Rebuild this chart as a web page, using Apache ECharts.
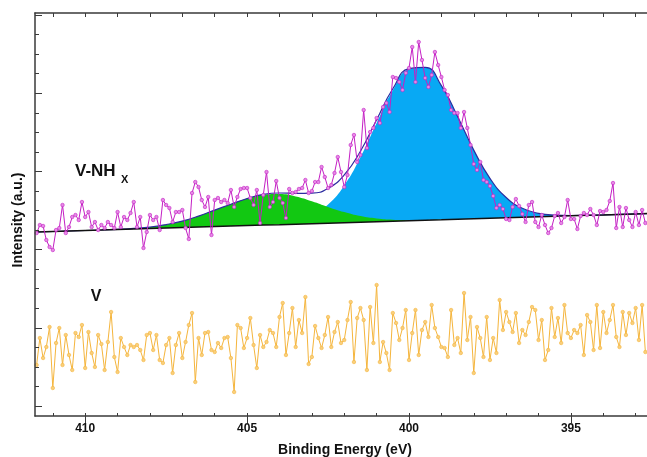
<!DOCTYPE html>
<html>
<head>
<meta charset="utf-8">
<title>N 1s</title>
<script src="https://cdn.jsdelivr.net/npm/echarts@6/dist/echarts.min.js"></script>
<style>
    html, body { margin: 0; padding: 0; background: #fff; }
    #main { width: 647px; height: 457px; }
</style>
</head>
<body>
<div id="main"></div>
<script>
// raw scans: start energy and step (eV), values in a.u.
const scanStart = 411.5;
const scanStep = 0.1;

// V-NHx raw spectrum
const vnhRaw = [
    183, 191, 190, 176, 169, 166, 186, 188, 211, 183,
    189, 199, 201, 196, 214, 199, 204, 189, 194, 186,
    191, 188, 194, 191, 188, 204, 189, 199, 196, 203,
    214, 189, 199, 168, 184, 201, 196, 199, 186, 216,
    211, 208, 194, 204, 204, 206, 188, 177, 223, 234,
    229, 216, 209, 219, 181, 216, 218, 214, 216, 213,
    226, 209, 219, 227,
    228, 228, 218, 211, 226, 193, 221, 244, 209, 214,
    235, 218, 213, 198, 227, 223, 224, 227, 228, 236,
    223, 225, 234, 234, 249, 239, 228, 231, 243, 259,
    244, 229, 241, 271, 281, 254, 261, 306, 268, 284,
    288, 298, 293, 309, 313, 304, 339, 338, 334, 326,
    343, 348, 369, 334, 374, 356, 338, 329, 341, 364,
    351,
    339, 326, 321, 306, 303, 303, 288, 304, 288, 271,
    252, 246, 254, 236, 234, 230, 220, 208, 211, 207,
    197, 196, 209, 217, 210, 202, 194, 211, 214, 194,
    189, 201, 191,
    183, 188, 200, 203, 193, 199, 216, 197, 197, 187,
    200, 203, 201, 207, 201, 191, 205, 204, 206, 215,
    233, 188, 209, 189, 208, 196, 189, 204, 191, 206,
    193
];

// V raw spectrum
const vRaw = [
    51, 78, 58, 69, 89, 28, 73, 88, 51, 81,
    61, 46, 83, 79, 91, 48, 84, 63, 49, 81,
    72, 46, 74, 104, 59, 44, 78, 69, 61, 71,
    69, 71, 66, 56, 81, 83, 66, 81, 56, 53,
    71, 78, 43, 71, 83, 58, 74, 91, 103, 34,
    78, 61, 83, 84, 66, 64, 73, 68, 78, 79,
    58, 24, 91, 88,
    68, 78, 98, 71, 48, 81, 69, 74, 86, 83,
    69, 99, 113, 61, 83, 108, 69, 96, 83, 119,
    52, 59, 90, 78, 68, 81, 99, 69, 84, 94,
    73, 76, 96, 114, 54, 98, 108, 96, 46, 109,
    73, 131, 54, 74, 63, 46, 103, 93, 76, 88,
    106, 56, 83, 106, 61, 86, 94, 79, 111, 88,
    79,
    69, 68, 59, 106, 71, 78, 63, 123, 76, 99,
    43, 89, 78, 59, 99, 56, 78, 63, 116, 86,
    104, 94, 84, 103, 73, 86, 81, 94, 109, 106,
    76, 96, 56, 66, 108, 79, 98, 73, 111, 83,
    78, 86, 83, 91, 61, 101, 94, 66, 111, 68,
    104, 83, 96, 111, 79, 69, 104, 81, 103, 93,
    108, 76, 111, 64
];

// peak fit, sampled every 0.5 eV
const fitEnergy = [
    411.5, 411, 410.5, 410, 409.5, 409, 408.5, 408, 407.5, 407,
    406.5, 406, 405.5, 405, 404.5, 404, 403.5, 403, 402.5, 402,
    401.5, 401, 400.5, 400, 399.5, 399, 398.5, 398, 397.5, 397,
    396.5, 396, 395.5, 395, 394.5, 394, 393.5, 393, 392.5
];
const fitBackground = [
    184, 184.5, 185, 185.5, 186, 186.5, 187, 187.4, 187.9, 188.4,
    188.9, 189.4, 189.9, 190.4, 190.9, 191.3, 191.8, 192.3, 192.8, 193.3,
    193.8, 194.3, 194.8, 195.3, 195.8, 196.2, 196.7, 197.2, 197.7, 198.2,
    198.7, 199.2, 199.7, 200.2, 200.7, 201.1, 201.6, 202.1, 202.6
];
// component near 404.2 eV (green)
const peakLow = [
    0, 0, 0, 0, 0, 0.2, 0.6, 1.5, 3.5, 6.5,
    11, 16.5, 21.8, 27, 30.4, 30.7, 27.8, 22.5, 16.3, 10.6,
    6.1, 3.2, 1.5, 0.6, 0.2, 0, 0, 0, 0, 0,
    0, 0, 0, 0, 0, 0, 0, 0, 0
];
// component near 399.7 eV (blue)
const peakMain = [
    0, 0, 0, 0, 0, 0, 0, 0, 0, 0,
    0, 0, 0, 0, 0.3, 1.0, 3.1, 8.1, 18.6, 37.2,
    64.9, 98.7, 130.9, 151.4, 152.7, 134.2, 102.9, 68.7, 40, 20.3,
    9, 3.5, 1.2, 0.3, 0, 0, 0, 0, 0
];

const xLabels = [410, 405, 400, 395];
const xTicks = [393, 394, 395, 396, 397, 398, 399, 400, 401, 402, 403, 404, 405, 406, 407, 408, 409, 410, 411];

const energy = vnhRaw.map((v, i) => +(scanStart - i * scanStep).toFixed(1));
const pair = (xs, ys) => xs.map((x, i) => [x, ys[i]]);
const mainTop = fitBackground.map((b, i) => +(b + peakMain[i]).toFixed(1));
const lowTop = fitBackground.map((b, i) => +(b + peakLow[i]).toFixed(1));
const envelope = fitBackground.map((b, i) => +(b + peakLow[i] + peakMain[i]).toFixed(1));

// y ticks (no labels on this axis)
let yTicks = [];
for (let k = 0; k <= 20; k++) {
    yTicks.push(10 + k * 19.55);
}
let yMajor = yTicks.filter((t, k) => k % 4 == 0);

const axisColor = '#3a3a3a';
const font = 'Liberation Sans, Arial, sans-serif';
const xMin = 392.65;
const xMax = 411.55;

function xAxisBase(pos) {
    return {
        type: 'value',
        position: pos,
        inverse: true,
        min: xMin,
        max: xMax,
        z: 10,
        splitLine: { show: false },
        axisLine: { show: false },
        axisTick: { show: false },
        axisLabel: { show: false }
    };
}

let xBottom = xAxisBase('bottom');
xBottom.axisLine = { show: true, onZero: false, lineStyle: { color: axisColor, width: 1.5 } };
xBottom.axisTick = { show: true, inside: true, length: 3, customValues: xTicks, lineStyle: { color: axisColor, width: 1 } };
xBottom.axisLabel = {
    show: true,
    customValues: xLabels,
    margin: 7,
    color: '#111',
    fontSize: 12,
    fontWeight: 'bold',
    fontFamily: font
};

let xTop = xAxisBase('top');
xTop.axisLine = { show: true, onZero: false, lineStyle: { color: axisColor, width: 1.5 } };
xTop.axisTick = { show: true, inside: true, length: 4, customValues: xTicks, lineStyle: { color: axisColor, width: 1 } };

let xTopMajor = xAxisBase('top');
xTopMajor.axisTick = { show: true, inside: true, length: 7, customValues: xLabels, lineStyle: { color: axisColor, width: 1 } };

// area fills go down to the axis, the white one hides everything under the background line
function fill(values, from, to, color, z) {
    return {
        type: 'line',
        data: pair(fitEnergy, values).slice(from, to),
        smooth: 0.5,
        symbol: 'none',
        lineStyle: { width: 0 },
        areaStyle: { color: color, opacity: 1, origin: 'start' },
        silent: true,
        z: z
    };
}

let option = {
    animation: false,
    backgroundColor: '#fff',
    textStyle: { fontFamily: font },
    grid: { left: 35, right: 0, top: 13, bottom: 41 },
    xAxis: [xBottom, xTop, xTopMajor],
    yAxis: [
        {
            type: 'value',
            position: 'left',
            min: 0,
            max: 403,
            z: 10,
            splitLine: { show: false },
            axisLabel: { show: false },
            axisLine: { show: true, onZero: false, lineStyle: { color: axisColor, width: 1.5 } },
            axisTick: { show: true, inside: true, length: 4, customValues: yTicks, lineStyle: { color: axisColor, width: 1 } }
        },
        {
            type: 'value',
            position: 'left',
            min: 0,
            max: 403,
            z: 10,
            splitLine: { show: false },
            axisLabel: { show: false },
            axisLine: { show: false },
            axisTick: { show: true, inside: true, length: 7, customValues: yMajor, lineStyle: { color: axisColor, width: 1 } }
        }
    ],
    series: [
        fill(mainTop, 12, 36, '#08a9f4', 1),
        fill(lowTop, 3, 27, '#12c812', 2),
        fill(fitBackground, 0, fitEnergy.length, '#ffffff', 3),
        {
            // fit envelope
            type: 'line',
            data: pair(fitEnergy, envelope),
            smooth: 0.5,
            symbol: 'none',
            lineStyle: { color: '#2c2ca0', width: 1.2 },
            z: 4
        },
        {
            // background
            type: 'line',
            data: pair(fitEnergy, fitBackground),
            symbol: 'none',
            lineStyle: { color: '#111', width: 1.5 },
            z: 4
        },
        {
            name: 'V-NHx',
            type: 'line',
            data: pair(energy, vnhRaw),
            symbol: 'circle',
            symbolSize: 3.5,
            lineStyle: { color: '#c41fc4', width: 1 },
            itemStyle: { color: '#e58ae5', borderColor: '#c41fc4', borderWidth: 0.6 },
            z: 5
        },
        {
            name: 'V',
            type: 'line',
            data: pair(energy, vRaw),
            symbol: 'circle',
            symbolSize: 3.5,
            lineStyle: { color: '#f5b53c', width: 1 },
            itemStyle: { color: '#f9cf7c', borderColor: '#f5b53c', borderWidth: 0.6 },
            z: 5
        }
    ],
    graphic: [
        {
            type: 'text',
            x: 75,
            y: 171,
            z: 100,
            style: { text: 'V-NH', font: 'bold 17px ' + font, fill: '#111', textAlign: 'left', textVerticalAlign: 'middle' }
        },
        {
            type: 'text',
            x: 121,
            y: 180,
            z: 100,
            style: { text: 'X', font: 'bold 11px ' + font, fill: '#111', textAlign: 'left', textVerticalAlign: 'middle' }
        },
        {
            type: 'text',
            x: 96,
            y: 297,
            z: 100,
            style: { text: 'V', font: 'bold 16px ' + font, fill: '#111', textAlign: 'center', textVerticalAlign: 'middle' }
        },
        {
            type: 'text',
            x: 18,
            y: 220,
            z: 100,
            rotation: Math.PI / 2,
            style: { text: 'Intensity (a.u.)', font: 'bold 14px ' + font, fill: '#111', textAlign: 'center', textVerticalAlign: 'middle' }
        },
        {
            type: 'text',
            x: 345,
            y: 450,
            z: 100,
            style: { text: 'Binding Energy (eV)', font: 'bold 14px ' + font, fill: '#111', textAlign: 'center', textVerticalAlign: 'middle' }
        }
    ]
};

var myChart = echarts.init(document.getElementById('main'));
myChart.setOption(option);
</script>
</body>
</html>
